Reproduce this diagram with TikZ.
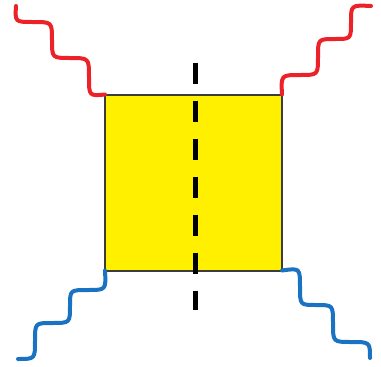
\documentclass[tikz,border=0pt]{standalone}
\usetikzlibrary{calc}
\definecolor{wred}{HTML}{ED2228}
\definecolor{wblue}{HTML}{1A72C2}
\definecolor{sqyellow}{HTML}{FFF000}
\definecolor{sqborder}{HTML}{3C3C3C}
\begin{document}
\begin{tikzpicture}[x=1pt,y=-1pt,
  wave/.style={line width=4pt, line cap=round, line join=round},
  redwave/.style={wave, draw=wred},
  bluewave/.style={wave, draw=wblue},
  squarebox/.style={draw=sqborder, fill=sqyellow, line width=2pt, minimum width=177pt, minimum height=176pt, inner sep=0pt, outer sep=0pt},
  cutline/.style={draw=black, line width=5pt, dash pattern=on 21.5pt off 16.5pt}]
\useasboundingbox (0,0) rectangle (381,367);
\node[squarebox] (sq) at (193.5,182.5) {};
% red waves
\draw[redwave] (sq.north west) .. controls (89,96) .. (89,77) .. controls (89,58) .. (70,58) .. controls (52,58) .. (52,40) .. controls (52,22) .. (33,22) .. controls (15,22) .. (16,6);
\draw[redwave] (sq.north east) .. controls (281,75) .. (300,75) .. controls (318,75) .. (318,57) .. controls (318,39) .. (335,39) .. controls (351,39) .. (351,22) .. controls (351,5) .. (371,6);
% blue waves
\draw[bluewave] (sq.south west) .. controls (106,290) .. (88,290) .. controls (70,290) .. (70,306) .. controls (70,323) .. (52,323) .. controls (35,323) .. (35,341) .. controls (35,359) .. (18,359);
\draw[bluewave] (sq.south east) .. controls (300,268) .. (300,287) .. controls (300,305) .. (316,305) .. controls (333,305) .. (333,323) .. controls (333,342) .. (351,342) .. controls (370,342) .. (370,358);
% dashed cut
\coordinate (dtop) at (195,62.7);
\coordinate (dbot) at (195,310);
\draw[cutline] (dtop) -- (dbot);
\end{tikzpicture}
\end{document}
